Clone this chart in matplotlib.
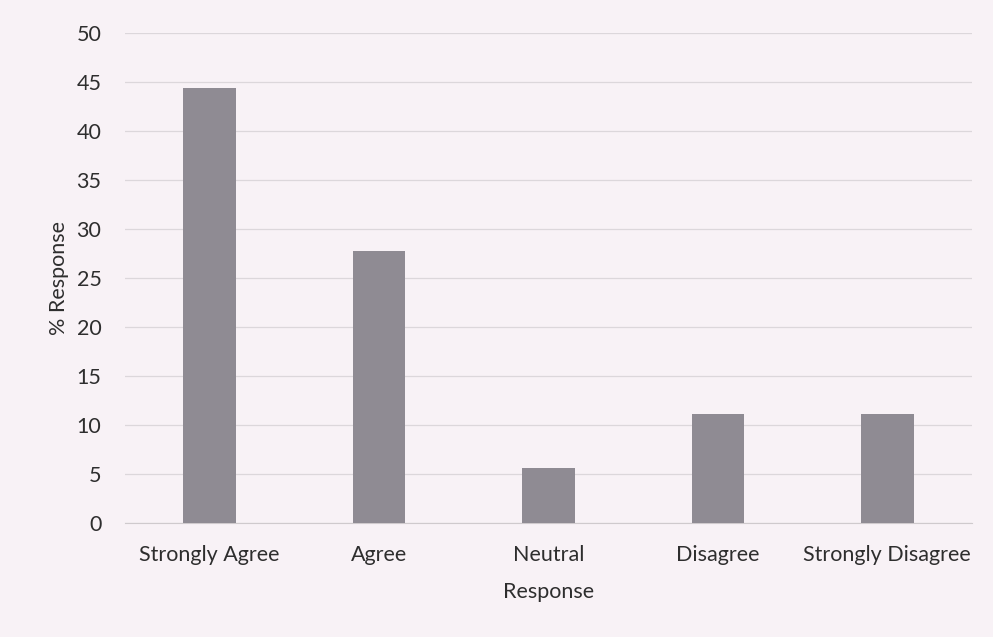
import matplotlib.pyplot as plt

categories = ["Strongly Agree", "Agree", "Neutral", "Disagree", "Strongly Disagree"]
values = [44.4, 27.8, 5.6, 11.1, 11.1]
yticks = [0, 5, 10, 15, 20, 25, 30, 35, 40, 45, 50]

plt.rcParams["font.family"] = ["Lato", "DejaVu Sans"]

fig = plt.figure(figsize=(9.93, 6.37), dpi=100)
fig.patch.set_facecolor("#f8f2f6")
ax = fig.add_axes([125 / 993, 1 - 523 / 637, 847 / 993, 490 / 637])
ax.set_facecolor("#f8f2f6")

x = range(len(categories))
ax.bar(x, values, width=0.31, color="#8f8b93", zorder=3)

ax.set_xlim(-0.5, len(categories) - 0.5)
ax.set_ylim(0, 50)
ax.set_yticks(yticks)
ax.set_xticks(list(x))
ax.set_xticklabels(categories)
ax.grid(axis="y", color="#dcd7db", linewidth=0.9, zorder=0)

for s in ["top", "right", "left"]:
    ax.spines[s].set_visible(False)
ax.spines["bottom"].set_color("#cfcacd")
ax.tick_params(axis="both", length=0, labelsize=15.5, colors="#2e2e2e")
ax.tick_params(axis="y", pad=17)
ax.tick_params(axis="x", pad=16)

ax.set_xlabel("Response", fontsize=15.5, color="#2e2e2e", labelpad=12)
ax.set_ylabel("% Response", fontsize=15.5, color="#2e2e2e", labelpad=5)

fig.savefig("out.png", dpi=100, facecolor=fig.get_facecolor())
